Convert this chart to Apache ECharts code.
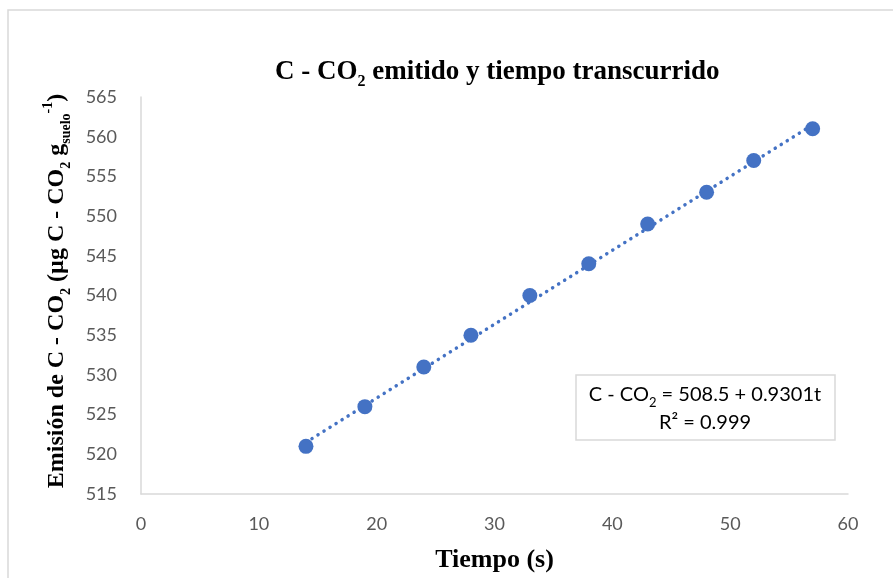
<!DOCTYPE html>
<html>
<head>
<meta charset="utf-8">
<script src="https://cdn.jsdelivr.net/npm/echarts@6/dist/echarts.min.js"></script>
<style>html,body{margin:0;padding:0;background:#fff;}#c{width:893px;height:578px;}</style>
</head>
<body>
<div id="c"></div>
<script>
// Data
var timeS = [14, 19, 24, 28, 33, 38, 43, 48, 52, 57];
var emision = [521, 526, 531, 535, 540, 544, 549, 553, 557, 561];
var trendX = [14, 57];
var trendY = [521.5, 561.5];
var xTicks = [0, 10, 20, 30, 40, 50, 60];
var yTicks = [515, 520, 525, 530, 535, 540, 545, 550, 555, 560, 565];

var chart = echarts.init(document.getElementById('c'));
var serif = '"Liberation Serif", "Times New Roman", serif';
var sans = 'Lato, "Open Sans", sans-serif';

chart.setOption({
  backgroundColor: '#fff',
  animation: false,
  title: {
    text: '{b|C - CO}{s|2}{b| emitido y tiempo transcurrido}',
    left: 270, top: 51,
    textStyle: {
      rich: {
        b: {fontFamily: serif, fontWeight: 'bold', fontSize: 27, color: '#000', lineHeight: 30, verticalAlign: 'bottom'},
        s: {fontFamily: serif, fontWeight: 'bold', fontSize: 16, color: '#000', lineHeight: 12, verticalAlign: 'bottom', padding: [0, 0, -4, 0]}
      }
    }
  },
  grid: {left: 141, right: 45, top: 97, bottom: 81, containLabel: false},
  xAxis: {
    type: 'value', min: xTicks[0], max: xTicks[xTicks.length - 1], interval: 10,
    name: 'Tiempo (s)', nameLocation: 'middle', nameGap: 53,
    nameTextStyle: {fontFamily: serif, fontWeight: 'bold', fontSize: 26, color: '#000'},
    axisLine: {lineStyle: {color: '#d9d9d9', width: 1.5}},
    axisTick: {show: false},
    splitLine: {show: false},
    axisLabel: {fontFamily: sans, fontSize: 18, color: '#595959', margin: 21}
  },
  yAxis: {
    type: 'value', min: yTicks[0], max: yTicks[yTicks.length - 1], interval: 5,
    axisLine: {show: true, lineStyle: {color: '#d9d9d9', width: 1.5}},
    axisTick: {show: false},
    splitLine: {show: false},
    axisLabel: {fontFamily: sans, fontSize: 18, color: '#595959', margin: 24}
  },
  series: [
    {
      type: 'line', data: trendX.map(function (x, i) { return [x, trendY[i]]; }),
      showSymbol: false, silent: true, z: 1,
      lineStyle: {color: '#4472C4', width: 3.5, type: [0.1, 7], cap: 'round'}
    },
    {
      type: 'scatter', data: timeS.map(function (x, i) { return [x, emision[i]]; }),
      symbol: 'circle', symbolSize: 15, z: 3,
      itemStyle: {color: '#4472C4', opacity: 1}
    }
  ],
  graphic: [
    {type: 'rect', shape: {x: 8, y: 10, width: 900, height: 600}, style: {fill: 'none', stroke: '#d9d9d9', lineWidth: 1.5}, silent: true},
    {type: 'rect', shape: {x: 576, y: 375, width: 259, height: 65}, style: {fill: '#fff', stroke: '#d9d9d9', lineWidth: 1.5}, z: 10},
    {type: 'text', x: 705, y: 393, z: 11,
      style: {
        text: '{n|C - CO}{s|2}{n| = 508.5 + 0.9301t}',
        align: 'center', verticalAlign: 'middle',
        rich: {
          n: {fontFamily: sans, fontSize: 20, fill: '#000', lineHeight: 24, verticalAlign: 'bottom'},
          s: {fontFamily: sans, fontSize: 13, fill: '#000', lineHeight: 10, verticalAlign: 'bottom', padding: [0, 0, -4, 0]}
        }
      }},
    {type: 'text', x: 705, y: 423, z: 11,
      style: {text: 'R² = 0.999', align: 'center', verticalAlign: 'middle', font: '20px ' + sans, fill: '#000'}},
    {type: 'text', x: 55, y: 291, rotation: Math.PI / 2, z: 11,
      style: {
        text: '{b|Emisión de C - CO}{s|2}{b| (µg C - CO}{s|2}{b| g}{s|suelo}{p|-1}{b|)}',
        align: 'center', verticalAlign: 'middle',
        rich: {
          b: {fontFamily: serif, fontWeight: 'bold', fontSize: 24, fill: '#000', lineHeight: 28, verticalAlign: 'bottom'},
          s: {fontFamily: serif, fontWeight: 'bold', fontSize: 14, fill: '#000', lineHeight: 10, verticalAlign: 'bottom', padding: [0, 0, -4, 0]},
          p: {fontFamily: serif, fontWeight: 'bold', fontSize: 14, fill: '#000', lineHeight: 14, verticalAlign: 'top'}
        }
      }}
  ]
});
</script>
</body>
</html>
